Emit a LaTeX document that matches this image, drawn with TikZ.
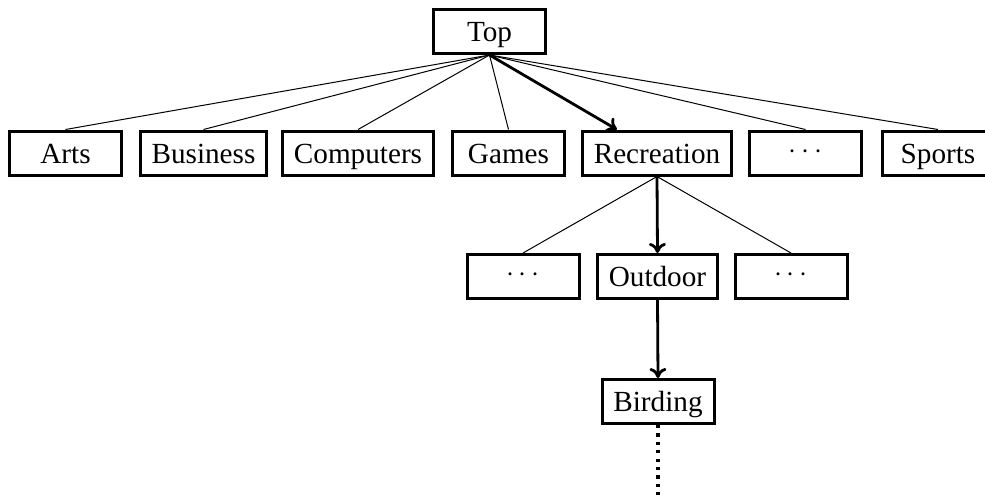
\documentclass[tikz,border=0pt]{standalone}
\usepackage{fontspec}
\setmainfont{Liberation Serif}
\usetikzlibrary{arrows.meta}
\begin{document}
\begin{tikzpicture}[x=0.5pt,y=-0.5pt,
  cat/.style={draw, rectangle, line width=1.5pt, minimum width=56pt,
    minimum height=22pt, inner xsep=5.5pt, inner ysep=0pt,
    text height=12pt, text depth=2pt,
    font=\fontsize{14.6}{16}\selectfont},
  etc/.style={cat, text height=9.5pt, text depth=4.5pt},
  branch/.style={line width=0.5pt},
  pathedge/.style={line width=1.4pt, -{To[length=5pt,width=8.5pt]}},
  more/.style={line width=1.6pt, dash pattern=on 1.6pt off 2.6pt}]
  \useasboundingbox (0,0) rectangle (985,499);
  \clip (0,0) rectangle (985,499);

  % root
  \node[cat] (top) at (489.5,31.5) {Top};

  % first level
  \node[cat] (arts) at (65.5,153) {Arts};
  \node[cat] (bus)  at (203.5,153) {Business};
  \node[cat] (comp) at (358,153) {Computers};
  \node[cat] (games) at (508.5,153) {Games};
  \node[cat] (rec)  at (657,153) {Recreation};
  \node[etc] (dots1) at (805.5,153) {$\cdots$};
  \node[cat] (sports) at (938,153) {Sports};

  % second level
  \node[etc] (dotsl) at (523,276.5) {$\cdots$};
  \node[cat] (out)   at (657.5,276.5) {Outdoor};
  \node[etc] (dotsr) at (791,276.5) {$\cdots$};

  % third level
  \node[cat] (bird) at (658,401.5) {Birding};
  \coordinate (below) at (658,499);

  % edges
  \foreach \n in {arts,bus,comp,games,dots1,sports}
    \draw[branch] (top.south) -- (\n.north);
  \draw[pathedge] (top.south) -- (rec);

  \draw[branch] (rec.south) -- (dotsl.north);
  \draw[branch] (rec.south) -- (dotsr.north);
  \draw[pathedge] (rec.south) -- (out.north);
  \draw[pathedge] (out.south) -- (bird.north);
  \draw[more] (bird.south) -- (below);
\end{tikzpicture}
\end{document}
